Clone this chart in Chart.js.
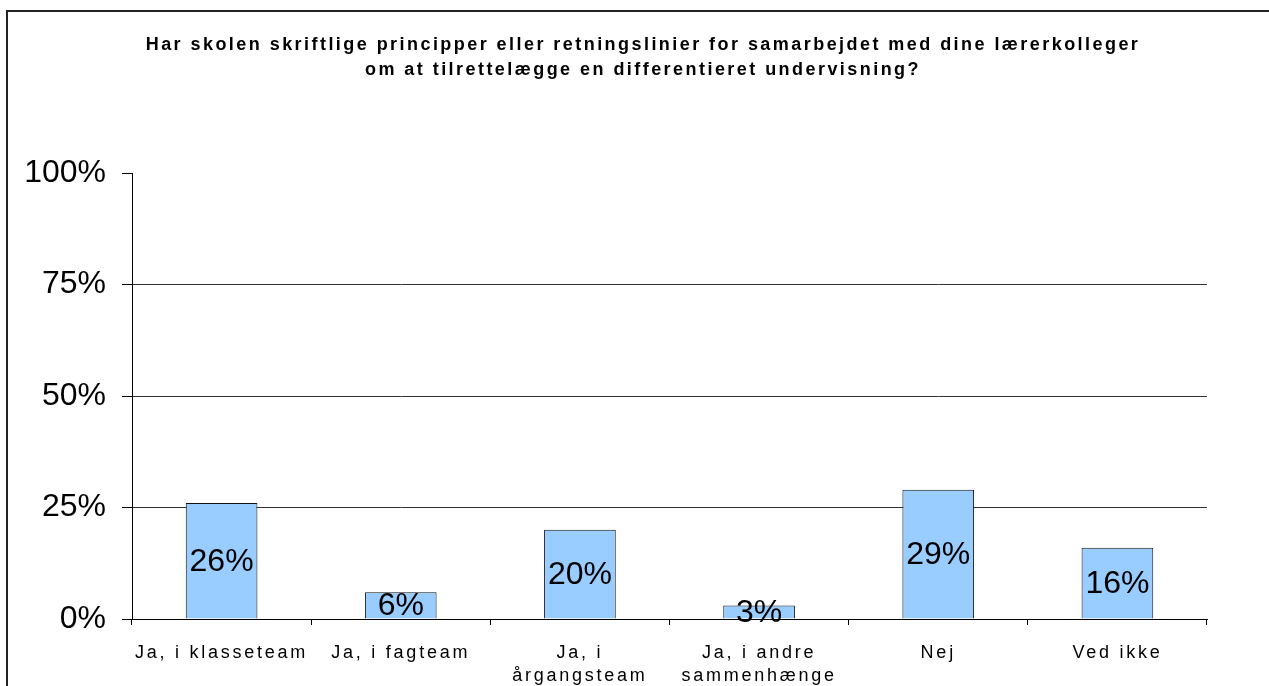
<!DOCTYPE html>
<html>
<head>
<meta charset="utf-8">
<script src="https://cdn.jsdelivr.net/npm/chart.js@4/dist/chart.umd.min.js"></script>
<style>
  body { margin: 0; background: #fff; overflow: hidden; }
  #frame { position: absolute; left: 6px; top: 10px; width: 1400px; height: 800px; border: 2px solid #222; }
  canvas { position: absolute; left: 0; top: 0; }
</style>
</head>
<body>
<div id="frame"></div>
<canvas id="chart" width="1269" height="686"></canvas>
<script>
const categories = ['Ja, i klasseteam', 'Ja, i fagteam', ['Ja, i', 'årgangsteam'], ['Ja, i andre', 'sammenhænge'], 'Nej', 'Ved ikke'];
const shares = [26, 6, 20, 3, 29, 16];
const yTicks = [0, 25, 50, 75, 100];
const titleLines = [
  'Har skolen skriftlige principper eller retningslinier for samarbejdet med dine lærerkolleger',
  'om at tilrettelægge en differentieret undervisning?'
];

const FONT = "Arial, 'Liberation Sans', sans-serif";
const TITLE_CENTER = 643;

// the original text is spread out, so add letter spacing per part
function spaceLabels(scale, sp) {
  if (scale._spaced) return;
  const orig = scale.drawLabels;
  scale.drawLabels = function (area) {
    const c = this.ctx;
    const old = c.letterSpacing;
    c.letterSpacing = sp;
    orig.call(this, area);
    c.letterSpacing = old;
  };
  scale._spaced = true;
}

// title sits a bit right of the plot centre in the original
function shiftTitle(chart) {
  const tb = chart.titleBlock;
  if (!tb || tb._shifted) return;
  const orig = tb.draw;
  tb.draw = function () {
    const c = this.ctx;
    const dx = TITLE_CENTER - (this.left + this.right) / 2;
    c.save();
    c.letterSpacing = '2.45px';
    c.translate(dx, 0);
    orig.apply(this, arguments);
    c.restore();
  };
  tb._shifted = true;
}

const spacing = {
  id: 'spacing',
  beforeDraw(chart) {
    shiftTitle(chart);
    spaceLabels(chart.scales.x, '2.75px');
    spaceLabels(chart.scales.y, '0px');
  }
};

const barLabels = {
  id: 'barLabels',
  afterDatasetsDraw(chart) {
    const ctx = chart.ctx;
    const meta = chart.getDatasetMeta(0);
    ctx.save();
    ctx.letterSpacing = '0px';
    ctx.font = '32px ' + FONT;
    ctx.fillStyle = '#000';
    ctx.textAlign = 'center';
    ctx.textBaseline = 'middle';
    meta.data.forEach((bar, i) => {
      ctx.fillText(shares[i] + '%', bar.x, (bar.y + bar.base) / 2 + 1);
    });
    ctx.restore();
  }
};

new Chart(document.getElementById('chart'), {
  type: 'bar',
  data: {
    labels: categories,
    datasets: [{
      data: shares,
      backgroundColor: '#99CCFF',
      borderColor: '#111',
      borderWidth: 1,
      categoryPercentage: 1,
      barPercentage: 0.4
    }]
  },
  options: {
    responsive: false,
    animation: false,
    layout: { padding: { left: 10, right: 62, top: 0, bottom: 0 } },
    plugins: {
      legend: { display: false },
      tooltip: { enabled: false },
      title: {
        display: true,
        text: titleLines,
        color: '#000',
        font: { family: FONT, size: 18, weight: 'bold', lineHeight: 25 / 18 },
        padding: { top: 33, bottom: 90 }
      }
    },
    scales: {
      x: {
        grid: { drawOnChartArea: false, color: '#000', tickLength: 6 },
        border: { color: '#000', width: 1 },
        ticks: {
          color: '#000',
          font: { family: FONT, size: 18, lineHeight: 23 / 18 },
          padding: 17,
          maxRotation: 0,
          autoSkip: false
        },
        afterFit(scale) { scale.height = 67; }
      },
      y: {
        min: 0,
        max: 100,
        afterBuildTicks(scale) { scale.ticks = yTicks.map(v => ({ value: v })); },
        grid: {
          color: c => (c.tick && c.tick.value === 100 ? 'rgba(0,0,0,0)' : '#333'),
          tickColor: '#000',
          tickLength: 10,
          lineWidth: 1
        },
        border: { color: '#000', width: 1 },
        ticks: {
          color: '#000',
          font: { family: FONT, size: 32 },
          padding: 16,
          callback: v => v + '%'
        },
        afterFit(scale) { scale.width = 122; }
      }
    }
  },
  plugins: [spacing, barLabels]
});
</script>
</body>
</html>
